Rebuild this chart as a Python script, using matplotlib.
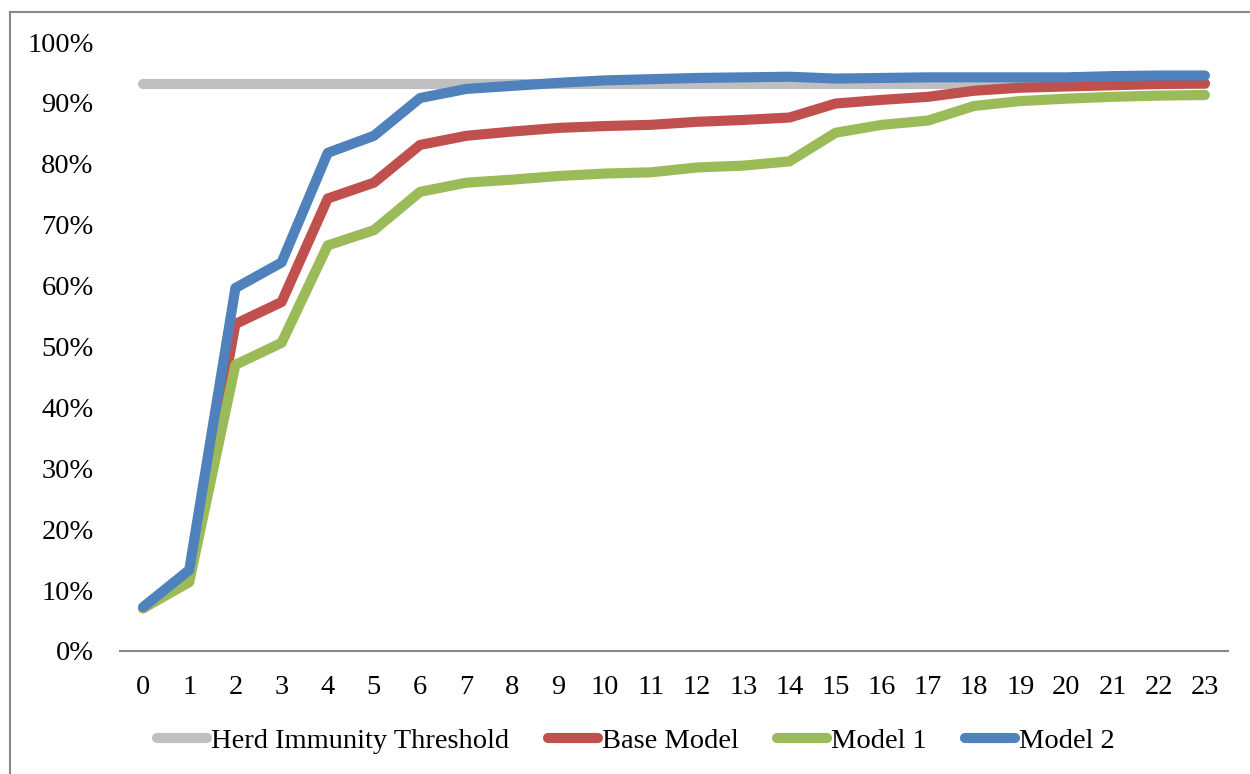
import matplotlib.pyplot as plt
from matplotlib.lines import Line2D
from matplotlib.ticker import FuncFormatter

DAYS = list(range(24))

HERD_THRESHOLD = [0.931] * 24

BASE_MODEL = [
    0.070, 0.119, 0.537, 0.573, 0.743, 0.769, 0.831, 0.846, 0.853, 0.859,
    0.862, 0.864, 0.869, 0.872, 0.876, 0.899, 0.905, 0.910, 0.920, 0.925,
    0.927, 0.929, 0.931, 0.932,
]

MODEL_1 = [
    0.070, 0.113, 0.470, 0.506, 0.666, 0.691, 0.754, 0.769, 0.774, 0.780,
    0.784, 0.786, 0.794, 0.797, 0.804, 0.851, 0.864, 0.871, 0.895, 0.903,
    0.907, 0.910, 0.912, 0.913,
]

MODEL_2 = [
    0.072, 0.133, 0.596, 0.638, 0.818, 0.846, 0.908, 0.923, 0.928, 0.933,
    0.937, 0.939, 0.941, 0.942, 0.943, 0.940, 0.941, 0.942, 0.942, 0.942,
    0.942, 0.944, 0.945, 0.945,
]

SERIES = [
    ("Herd Immunity Threshold", HERD_THRESHOLD, "#BFBFBF"),
    ("Base Model", BASE_MODEL, "#C0504D"),
    ("Model 1", MODEL_1, "#9BBB59"),
    ("Model 2", MODEL_2, "#4F81BD"),
]

plt.rcParams["font.family"] = ["Liberation Serif", "DejaVu Serif"]

fig = plt.figure(figsize=(12.5, 7.74), dpi=100)
ax = fig.add_axes([0.096, 0.159, 0.8864, 0.7867])

for name, values, color in SERIES:
    ax.plot(DAYS, values, color=color, lw=7.3, label=name,
            solid_capstyle="round", solid_joinstyle="round")

ax.set_xlim(-0.5, 23.5)
ax.set_ylim(0, 1)
ax.set_xticks(DAYS)
ax.set_yticks([i / 10 for i in range(11)])
ax.yaxis.set_major_formatter(FuncFormatter(lambda v, pos: f"{v * 100:.0f}%"))
ax.tick_params(axis="both", length=0, labelsize=20.5)
ax.tick_params(axis="y", pad=19)
ax.tick_params(axis="x", pad=17)

for side in ("top", "right", "left"):
    ax.spines[side].set_visible(False)
ax.spines["bottom"].set_color("#888888")
ax.spines["bottom"].set_linewidth(1.5)

ax.legend(
    loc="center",
    bbox_to_anchor=(636 / 1250, (774 - 741) / 774),
    bbox_transform=fig.transFigure,
    ncol=4,
    frameon=False,
    fontsize=20.5,
    handlelength=1.75,
    handletextpad=0.15,
    columnspacing=1.35,
)

# outer chart frame (only left and top edges fall inside the image)
fig.add_artist(Line2D([10 / 1250, 10 / 1250], [0, 1 - 12 / 774],
                      transform=fig.transFigure, color="#888888", lw=1.5))
fig.add_artist(Line2D([10 / 1250, 1], [1 - 12 / 774, 1 - 12 / 774],
                      transform=fig.transFigure, color="#888888", lw=1.5))

fig.savefig("out.png", dpi=100)
